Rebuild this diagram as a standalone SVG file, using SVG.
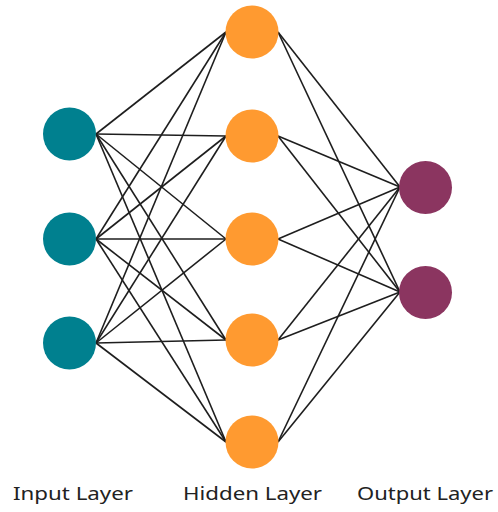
<svg xmlns="http://www.w3.org/2000/svg" width="498" height="512" viewBox="0 0 498 512">
<style>
.in{fill:#00808F}
.hid{fill:#FF9A30}
.out{fill:#8B3560}
.c line{stroke:#1e1e1e;stroke-width:1.6}
.lbl{font-family:"Comic Sans MS","Noto Sans","DejaVu Sans",sans-serif;font-size:18px;fill:#222;text-anchor:middle}
</style>
<rect width="498" height="512" fill="#fff"/>
<g id="connectors" class="c">
<line x1="96" y1="134" x2="226" y2="32"/><line x1="96" y1="134" x2="226" y2="136"/><line x1="96" y1="134" x2="226" y2="239"/><line x1="96" y1="134" x2="226" y2="340"/><line x1="96" y1="134" x2="226" y2="442"/>
<line x1="96" y1="239" x2="226" y2="32"/><line x1="96" y1="239" x2="226" y2="136"/><line x1="96" y1="239" x2="226" y2="239"/><line x1="96" y1="239" x2="226" y2="340"/><line x1="96" y1="239" x2="226" y2="442"/>
<line x1="96" y1="343" x2="226" y2="32"/><line x1="96" y1="343" x2="226" y2="136"/><line x1="96" y1="343" x2="226" y2="239"/><line x1="96" y1="343" x2="226" y2="340"/><line x1="96" y1="343" x2="226" y2="442"/>
<line x1="278" y1="32" x2="400" y2="187"/><line x1="278" y1="32" x2="400" y2="292"/>
<line x1="278" y1="136" x2="400" y2="187"/><line x1="278" y1="136" x2="400" y2="292"/>
<line x1="278" y1="239" x2="400" y2="187"/><line x1="278" y1="239" x2="400" y2="292"/>
<line x1="278" y1="340" x2="400" y2="187"/><line x1="278" y1="340" x2="400" y2="292"/>
<line x1="278" y1="442" x2="400" y2="187"/><line x1="278" y1="442" x2="400" y2="292"/>
</g>
<g id="in1"><circle class="in" cx="69.5" cy="134" r="26.5"/></g>
<g id="in2"><circle class="in" cx="69.5" cy="239" r="26.5"/></g>
<g id="in3"><circle class="in" cx="69.5" cy="343" r="26.5"/></g>
<g id="h1"><circle class="hid" cx="252" cy="32" r="26.5"/></g>
<g id="h2"><circle class="hid" cx="252" cy="136" r="26.5"/></g>
<g id="h3"><circle class="hid" cx="252" cy="239" r="26.5"/></g>
<g id="h4"><circle class="hid" cx="252" cy="340" r="26.5"/></g>
<g id="h5"><circle class="hid" cx="252" cy="442" r="26.5"/></g>
<g id="o1"><circle class="out" cx="425.5" cy="187.5" r="26.5"/></g>
<g id="o2"><circle class="out" cx="425.5" cy="292.5" r="26.5"/></g>
<g id="labels">
<text class="lbl" x="73" y="500" textLength="120" lengthAdjust="spacingAndGlyphs">Input Layer</text>
<text class="lbl" x="252.5" y="500" textLength="139" lengthAdjust="spacingAndGlyphs">Hidden Layer</text>
<text class="lbl" x="425" y="500" textLength="136" lengthAdjust="spacingAndGlyphs">Output Layer</text>
</g>
</svg>
